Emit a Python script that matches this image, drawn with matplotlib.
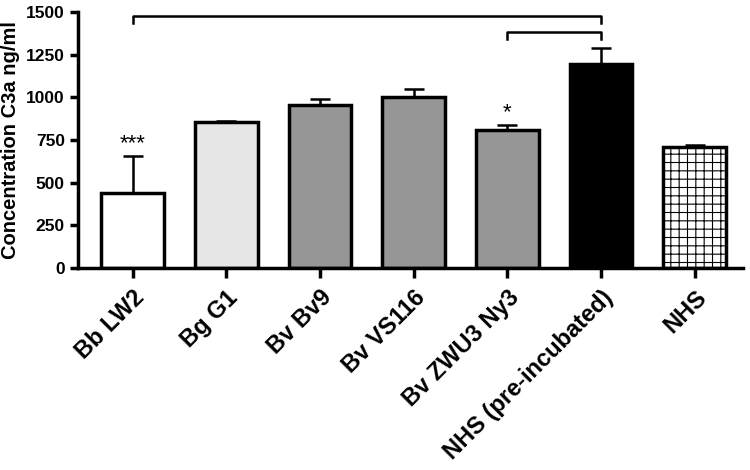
import matplotlib.pyplot as plt

plt.rcParams['font.family'] = ['Liberation Sans', 'DejaVu Sans']
plt.rcParams['font.weight'] = 'bold'
plt.rcParams['hatch.linewidth'] = 0.8

categories = ['Bb LW2', 'Bg G1', 'Bv Bv9', 'Bv VS116', 'Bv ZWU3 Ny3',
              'NHS (pre-incubated)', 'NHS']
values = [440, 855, 955, 1000, 810, 1195, 708]
errors = [215, 8, 35, 50, 30, 95, 12]
colors = ['white', '#e6e6e6', '#969696', '#969696', '#969696', 'black', 'white']
hatches = ['', '', '', '', '', '', '++']
stars = {0: '***', 4: '*'}

fig = plt.figure(figsize=(7.5, 4.7), dpi=100)
ax = fig.add_axes([0.104, 0.43, 0.886, 0.544])

x = range(len(categories))
bars = ax.bar(x, values, width=0.67, color=colors, edgecolor='black', linewidth=2.5,
              zorder=2)
for b, h in zip(bars, hatches):
    b.set_hatch(h)
ax.errorbar(x, values, yerr=[[0] * len(errors), errors], fmt='none', ecolor='black',
            elinewidth=1.8, capsize=7, capthick=1.8, zorder=1)

for i, s in stars.items():
    ax.text(i, values[i] + errors[i] + 10, s, ha='center', va='bottom',
            fontsize=16, fontweight='normal')

# significance brackets
ax.plot([0, 0, 5, 5], [1435, 1480, 1480, 1435], color='black', lw=1.8,
        clip_on=False)
ax.plot([4, 4, 5, 5], [1340, 1385, 1385, 1340], color='black', lw=1.8,
        clip_on=False)

ax.set_ylim(0, 1500)
ax.set_xlim(-0.585, 6.51)
ax.set_yticks([0, 250, 500, 750, 1000, 1250, 1500])
ax.set_xticks(list(x))
ax.set_xticklabels(categories, rotation=45, ha='right', rotation_mode='anchor',
                   fontsize=17, fontweight='bold')
ax.tick_params(axis='y', labelsize=12.5, width=2.5, length=6)
ax.tick_params(axis='x', width=2.5, length=7, pad=6)
for lab in ax.get_yticklabels():
    lab.set_fontweight('bold')
ax.set_ylabel('Concentration C3a ng/ml', fontsize=14.5, fontweight='bold',
              labelpad=4)

ax.spines['top'].set_visible(False)
ax.spines['right'].set_visible(False)
ax.spines['left'].set_linewidth(2.5)
ax.spines['bottom'].set_linewidth(2.5)

fig.savefig('out.png', dpi=100)
